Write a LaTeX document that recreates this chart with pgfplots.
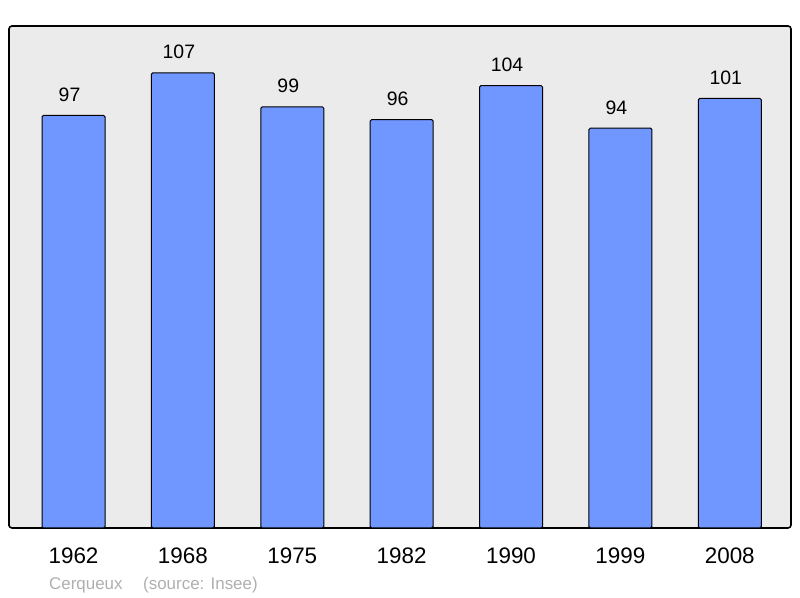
\documentclass[border=0pt]{standalone}
\usepackage{pgfplots}
\pgfplotsset{compat=1.18}
\usepackage{fontspec}
\setmainfont{Liberation Sans}
\definecolor{barblue}{RGB}{112,150,255}
\definecolor{bggray}{RGB}{235,235,235}
\definecolor{srcgray}{RGB}{175,175,175}
\begin{document}
\begin{tikzpicture}[x=1bp,y=1bp]
\path (0,0) rectangle (800,598);
\begin{axis}[
  at={(9bp,70bp)}, anchor=south west,
  scale only axis, width=782bp, height=502bp,
  xmin=-0.59, xmax=6.56, ymin=0, ymax=118,
  axis background/.style={fill=bggray},
  axis line style={line width=1.6bp, rounded corners=3bp},
  ybar, bar width=63bp,
  xtick=data,
  xticklabels={1962,1968,1975,1982,1990,1999,2008},
  major tick length=0pt,
  ytick=\empty,
  xticklabel style={anchor=base, yshift=-36bp, inner sep=0pt, font=\fontsize{22.5}{26}\selectfont},
  nodes near coords,
  /pgf/number format/assume math mode=true,
  every node near coord/.append style={anchor=base, yshift=14bp, xshift=-4bp, inner sep=0pt, font=\fontsize{19.5}{23}\selectfont, black},
  clip=false,
]
\addplot[fill=barblue, draw=black, line width=1bp, rounded corners=1.5bp] coordinates {
  (0,97) (1,107) (2,99) (3,96) (4,104) (5,94) (6,101)
};
\end{axis}
\node[anchor=base west, inner sep=0pt, text=srcgray, font=\fontsize{17}{20}\selectfont] at (49,8) {Cerqueux};
\node[anchor=base west, inner sep=0pt, text=srcgray, font=\fontsize{17}{20}\selectfont] at (143,8) {(source: Insee)};
\end{tikzpicture}
\end{document}
